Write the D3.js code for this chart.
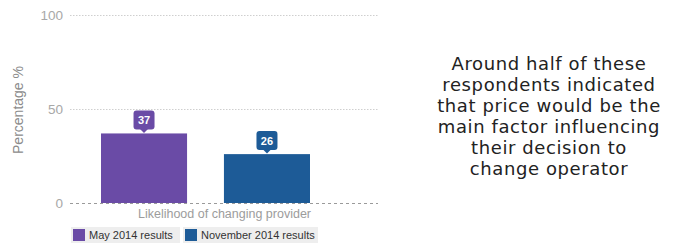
<!DOCTYPE html>
<html>
<head>
<meta charset="utf-8">
<script src="https://cdn.jsdelivr.net/npm/d3@7"></script>
<style>
  body { margin: 0; background: #fff; }
  svg { display: block; font-family: "Liberation Sans", Arial, sans-serif; }
</style>
</head>
<body>
<svg id="chart" width="673" height="244"></svg>
<script>
// data
const series = ['May 2014 results', 'November 2014 results'];
const values = [37, 26];
const colors = ['#6a4ba6', '#1d5b97'];
const yTicks = [0, 50, 100];
const xLabel = 'Likelihood of changing provider';
const yLabel = 'Percentage %';
const note = ['Around half of these', 'respondents indicated', 'that price would be the',
  'main factor influencing', 'their decision to', 'change operator'];

const svg = d3.select('#chart');

// scales
const y = d3.scaleLinear().domain([0, 100]).range([203, 15]);
const x = d3.scaleBand().domain(series).range([101, 310]).paddingInner(0.3).paddingOuter(0);
const plotLeft = 70, plotRight = 378;

// grid
svg.append('g').selectAll('line')
  .data(yTicks)
  .enter().append('line')
  .attr('x1', plotLeft).attr('x2', plotRight)
  .attr('y1', d => y(d) + 0.5).attr('y2', d => y(d) + 0.5)
  .attr('stroke', d => d === 0 ? '#9a9a9a' : '#cfcfcf')
  .attr('stroke-width', 1)
  .attr('stroke-dasharray', d => d === 0 ? '3,3' : '1.5,1.5');

// y tick labels
svg.append('g').selectAll('text')
  .data(yTicks)
  .enter().append('text')
  .attr('x', 63).attr('y', d => y(d))
  .attr('dy', '0.36em')
  .attr('text-anchor', 'end')
  .attr('fill', '#a8a8a8')
  .style('font-size', '13.5px')
  .text(d => d);

// y title
svg.append('text')
  .attr('transform', 'translate(23,110) rotate(-90)')
  .attr('text-anchor', 'middle')
  .attr('fill', '#8c8c8c')
  .style('font-size', '14px')
  .text(yLabel);

// bars
svg.append('g').selectAll('rect')
  .data(values)
  .enter().append('rect')
  .attr('x', (d, i) => x(series[i]))
  .attr('y', d => y(d))
  .attr('width', x.bandwidth())
  .attr('height', d => y(0) - y(d))
  .attr('fill', (d, i) => colors[i]);

// value bubbles
const bub = svg.append('g').selectAll('g')
  .data(values)
  .enter().append('g')
  .attr('transform', (d, i) => `translate(${x(series[i]) + x.bandwidth() / 2},${y(d)})`);

bub.append('rect')
  .attr('x', -10.5).attr('y', -23)
  .attr('width', 21).attr('height', 19)
  .attr('rx', 3)
  .attr('fill', (d, i) => colors[i]);

bub.append('path')
  .attr('d', 'M-4,-4.5L0,-0.5L4,-4.5Z')
  .attr('fill', (d, i) => colors[i]);

bub.append('text')
  .attr('y', -13.5)
  .attr('dy', '0.36em')
  .attr('text-anchor', 'middle')
  .attr('fill', '#fff')
  .style('font-size', '11px')
  .style('font-weight', 'bold')
  .text(d => d);

// x label
svg.append('text')
  .attr('x', (plotLeft + plotRight) / 2 + 0.5).attr('y', 218)
  .attr('text-anchor', 'middle')
  .attr('fill', '#9c9c9c')
  .style('font-size', '12.5px')
  .text(xLabel);

// legend
const legX = [71, 183];
const legW = [109, 135];
const leg = svg.append('g').selectAll('g')
  .data(series)
  .enter().append('g')
  .attr('transform', (d, i) => `translate(${legX[i]},227)`);

leg.append('rect')
  .attr('width', (d, i) => legW[i]).attr('height', 16)
  .attr('fill', '#eeeeee');

leg.append('rect')
  .attr('x', 2).attr('y', 2)
  .attr('width', 12).attr('height', 12)
  .attr('fill', (d, i) => colors[i]);

leg.append('text')
  .attr('x', 18).attr('y', 12)
  .attr('fill', '#333')
  .style('font-size', '11px')
  .text(d => d);

// side note
svg.append('text')
  .attr('text-anchor', 'middle')
  .attr('fill', '#222')
  .style('font-family', '"DejaVu Sans", sans-serif')
  .style('font-size', '18px')
  .style('letter-spacing', '0.6px')
  .selectAll('tspan')
  .data(note)
  .enter().append('tspan')
  .attr('x', 549)
  .attr('y', (d, i) => 70 + i * 21)
  .text(d => d);
</script>
</body>
</html>
